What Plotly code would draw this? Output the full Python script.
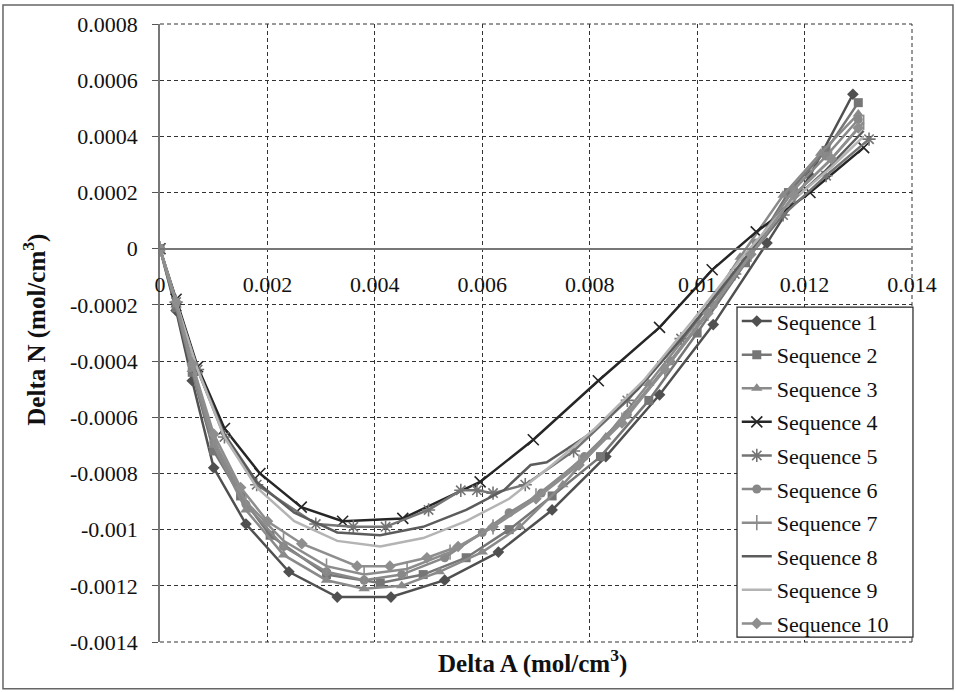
import plotly.graph_objects as go

# ---------------- data ----------------
names = [f"Sequence {i}" for i in range(1, 11)]

x1 = [0, 0.0003, 0.0006, 0.0010, 0.0016, 0.0024, 0.0033, 0.0043, 0.0053, 0.0063, 0.0073, 0.0083, 0.0093, 0.0103, 0.0113, 0.0121, 0.0129]
y1 = [0, -0.00022, -0.00047, -0.00078, -0.00098, -0.00115, -0.00124, -0.00124, -0.00118, -0.00108, -0.00093, -0.00074, -0.00052, -0.00027, 0.00002, 0.00026, 0.00055]

x2 = [0, 0.0003, 0.0006, 0.0010, 0.0015, 0.00205, 0.0031, 0.0041, 0.0049, 0.0057, 0.0065, 0.0073, 0.0082, 0.0091, 0.0100, 0.0109, 0.0117, 0.0124, 0.0130]
y2 = [0, -0.00021, -0.00044, -0.00072, -0.00088, -0.00102, -0.00116, -0.00119, -0.00116, -0.00110, -0.00100, -0.00088, -0.00074, -0.00054, -0.00030, -0.00005, 0.00020, 0.00035, 0.00052]

x3 = [0, 0.0003, 0.0006, 0.0010, 0.0016, 0.0023, 0.0031, 0.0038, 0.0045, 0.0052, 0.0060, 0.0067, 0.0075, 0.0083, 0.0091, 0.0100, 0.0108, 0.0116, 0.0123, 0.0130]
y3 = [0, -0.00020, -0.00043, -0.00070, -0.00093, -0.00109, -0.00118, -0.00121, -0.00120, -0.00115, -0.00108, -0.00099, -0.00084, -0.00067, -0.00048, -0.00026, -0.00003, 0.00019, 0.00034, 0.00048]

x4 = [0, 0.0003, 0.0007, 0.0012, 0.00186, 0.00263, 0.0034, 0.00452, 0.00596, 0.00695, 0.00816, 0.0093, 0.01028, 0.0111, 0.0121, 0.0131]
y4 = [0, -0.00018, -0.00042, -0.00064, -0.00080, -0.00092, -0.00097, -0.00096, -0.00083, -0.00068, -0.00047, -0.00028, -0.000075, 0.00006, 0.00020, 0.00036]

x5 = [0, 0.0003, 0.0007, 0.0012, 0.0018, 0.0029, 0.0036, 0.0042, 0.0050, 0.0056, 0.0059, 0.0062, 0.0068, 0.0077, 0.0087, 0.0097, 0.0107, 0.0116, 0.0124, 0.0132]
y5 = [0, -0.00019, -0.00043, -0.00067, -0.00084, -0.00098, -0.00099, -0.00099, -0.00093, -0.00086, -0.00086, -0.00087, -0.00084, -0.00072, -0.00054, -0.00032, -0.00009, 0.00012, 0.00026, 0.00039]

x6 = [0, 0.0003, 0.0006, 0.0010, 0.0016, 0.0023, 0.0031, 0.0038, 0.0045, 0.0053, 0.0060, 0.0065, 0.0071, 0.0079, 0.0087, 0.0095, 0.0103, 0.0111, 0.0118, 0.0124, 0.0130]
y6 = [0, -0.00019, -0.00042, -0.00069, -0.00091, -0.00106, -0.00115, -0.00118, -0.00116, -0.00110, -0.00101, -0.00094, -0.00087, -0.00074, -0.00059, -0.00040, -0.00020, 0.00002, 0.00021, 0.00033, 0.00046]

x7 = [0, 0.0003, 0.0006, 0.0010, 0.0016, 0.0023, 0.0031, 0.0038, 0.0046, 0.0054, 0.0062, 0.0070, 0.0078, 0.0086, 0.0094, 0.0102, 0.0110, 0.0118, 0.0125, 0.0131]
y7 = [0, -0.00019, -0.00041, -0.00068, -0.00090, -0.00104, -0.00113, -0.00116, -0.00114, -0.00108, -0.00099, -0.00088, -0.00076, -0.00061, -0.00043, -0.00023, -0.00002, 0.00019, 0.00032, 0.00045]

x8 = [0, 0.0003, 0.0007, 0.0012, 0.0018, 0.0025, 0.0033, 0.0041, 0.0049, 0.0057, 0.0064, 0.0069, 0.0072, 0.0080, 0.0089, 0.0098, 0.0107, 0.0116, 0.0124, 0.0131]
y8 = [0, -0.00019, -0.00043, -0.00066, -0.00083, -0.00094, -0.00101, -0.00102, -0.00099, -0.00093, -0.00086, -0.00077, -0.00076, -0.00066, -0.00050, -0.00030, -0.00008, 0.00014, 0.00028, 0.00042]

x9 = [0, 0.0003, 0.0007, 0.0012, 0.0018, 0.0025, 0.0033, 0.0041, 0.0049, 0.0057, 0.0065, 0.0073, 0.0081, 0.0090, 0.0099, 0.0108, 0.0117, 0.0125, 0.0131]
y9 = [0, -0.00019, -0.00043, -0.00067, -0.00085, -0.00097, -0.00104, -0.00106, -0.00103, -0.00097, -0.00089, -0.00077, -0.00064, -0.00047, -0.00026, -0.00004, 0.00016, 0.00029, 0.00040]

x10 = [0, 0.0003, 0.0006, 0.0010, 0.0015, 0.0020, 0.00264, 0.00367, 0.00428, 0.00497, 0.00555, 0.0062, 0.0070, 0.0078, 0.0086, 0.0094, 0.0102, 0.0110, 0.0118, 0.0125, 0.0130]
y10 = [0, -0.00019, -0.00041, -0.00066, -0.00085, -0.00097, -0.00105, -0.00113, -0.00113, -0.00110, -0.00106, -0.00099, -0.00089, -0.00077, -0.00062, -0.00043, -0.00023, -0.00002, 0.00019, 0.00032, 0.00043]

xs = [x1, x2, x3, x4, x5, x6, x7, x8, x9, x10]
ys = [y1, y2, y3, y4, y5, y6, y7, y8, y9, y10]

x_tickvals = [0, 0.002, 0.004, 0.006, 0.008, 0.010, 0.012, 0.014]
x_ticktext = ["0", "0.002", "0.004", "0.006", "0.008", "0.01", "0.012", "0.014"]
y_tickvals = [0.0008, 0.0006, 0.0004, 0.0002, 0, -0.0002, -0.0004, -0.0006, -0.0008, -0.0010, -0.0012, -0.0014]
y_ticktext = ["0.0008", "0.0006", "0.0004", "0.0002", "0", "-0.0002", "-0.0004", "-0.0006",
              "-0.0008", "-0.001", "-0.0012", "-0.0014"]

# ---------------- styles ----------------
colors = ["#505050", "#767676", "#8a8a8a", "#262626", "#747474",
          "#888888", "#8c8c8c", "#5c5c5c", "#b4b4b4", "#8e8e8e"]
symbols = ["diamond", "square", "triangle-up", "x-thin-open", "asterisk-open",
           "circle", "line-ns-open", None, None, "diamond"]
msizes = [9, 9, 10, 11, 11, 9, 11, 0, 0, 9]

FONT = "Liberation Serif"
GRID = "#333333"
DASH = "4px,3px"

fig = go.Figure()
for i in range(10):
    sym = symbols[i]
    tr = dict(
        x=xs[i], y=ys[i], name=names[i], legendgroup=f"g{i}",
        line=dict(color=colors[i], width=2.5),
    )
    if sym is None:
        tr["mode"] = "lines"
    else:
        tr["mode"] = "lines+markers"
        mk = dict(symbol=sym, size=msizes[i], color=colors[i])
        if sym.endswith("-open"):
            mk["line"] = dict(color=colors[i], width=1.6)
        tr["marker"] = mk
    fig.add_trace(go.Scatter(**tr))

ymin, ymax = -0.0014, 0.0008
xmin, xmax = 0, 0.014
zero_pos = (0 - ymin) / (ymax - ymin)

edge = dict(color=GRID, width=1, dash=DASH)

fig.update_layout(
    width=956, height=692,
    margin=dict(l=160, r=44, t=22, b=50),
    paper_bgcolor="white", plot_bgcolor="white",
    font=dict(family=FONT, size=22, color="#111"),
    showlegend=True,
    legend=dict(
        x=0.767, y=0.553, xanchor="left", yanchor="top",
        bgcolor="rgba(0,0,0,0)", borderwidth=0,
        font=dict(family=FONT, size=22, color="#111"),
        tracegroupgap=2,
    ),
    xaxis=dict(
        range=[xmin, xmax], tickvals=x_tickvals, ticktext=x_ticktext,
        anchor="free", position=zero_pos,
        showline=True, linecolor="#777", linewidth=1.5,
        showgrid=True, gridcolor=GRID, gridwidth=1, griddash=DASH,
        zeroline=False, ticks="", ticklabelstandoff=16,
        tickfont=dict(family=FONT, size=22, color="#111"),
    ),
    yaxis=dict(
        range=[ymin, ymax], tickvals=y_tickvals, ticktext=y_ticktext,
        showline=True, linecolor="#777", linewidth=1.5,
        showgrid=True, gridcolor=GRID, gridwidth=1, griddash=DASH,
        zeroline=False, ticks="outside", ticklen=6, tickcolor="#555",
        ticklabelstandoff=10,
        tickfont=dict(family=FONT, size=22, color="#111"),
    ),
    annotations=[
        dict(text="<b>Delta A (mol/cm<sup>3</sup>)</b>", xref="paper", yref="paper",
             x=0.496, y=-0.032, xanchor="center", yanchor="middle", showarrow=False,
             font=dict(family=FONT, size=25, color="#111")),
        dict(text="<b>Delta N (mol/cm<sup>3</sup>)</b>", xref="paper", yref="paper",
             x=-0.167, y=0.506, xanchor="center", yanchor="middle", showarrow=False,
             textangle=-90, font=dict(family=FONT, size=25, color="#111")),
    ],
    shapes=[
        dict(type="rect", xref="paper", yref="paper",
             x0=-0.2088, x1=1.0545, y0=-0.0758, y1=1.0306,
             line=dict(color="#666", width=1.5), fillcolor="rgba(0,0,0,0)", layer="below"),
        dict(type="line", xref="paper", yref="paper", x0=0, x1=1, y0=1, y1=1,
             line=edge, layer="below"),
        dict(type="line", xref="paper", yref="paper", x0=0, x1=1, y0=0, y1=0,
             line=edge, layer="below"),
        dict(type="line", xref="paper", yref="paper", x0=1, x1=1, y0=0, y1=1,
             line=edge, layer="below"),
        # legend box
        dict(type="rect", xref="paper", yref="paper",
             x0=0.7673, x1=1.0013, y0=0.008, y1=0.542,
             line=dict(color="#222", width=1.2), fillcolor="white", layer="above"),
    ],
)

fig.write_html("out.html", config={"displayModeBar": False},
               post_script="document.body.style.margin='0';")
